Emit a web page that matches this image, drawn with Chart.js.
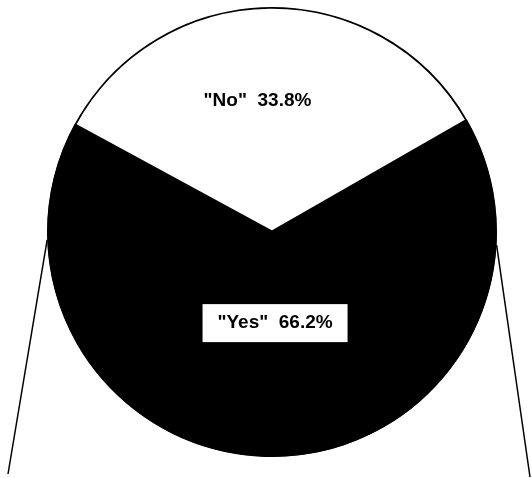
<!DOCTYPE html>
<html>
<head>
<meta charset="utf-8">
<script src="https://cdn.jsdelivr.net/npm/chart.js@4"></script>
<style>
  html, body { margin: 0; padding: 0; background: #fff; }
  #wrap { width: 532px; height: 478px; }
</style>
</head>
<body>
<div id="wrap"><canvas id="c" width="532" height="478"></canvas></div>
<script>
// Survey answers and their shares (percent)
const categories = ['"No"', '"Yes"'];
const shares = [33.8, 66.2];
const sliceColors = ['#ffffff', '#000000'];

// Text labels for each slice, plus the supporting lines under the disc
const pieDecor = {
  id: 'pieDecor',
  afterDatasetsDraw(chart) {
    const ctx = chart.ctx;
    const arcs = chart.getDatasetMeta(0).data;
    const cx = arcs[0].x, cy = arcs[0].y, r = arcs[0].outerRadius;

    // stand lines from the disc's sides down to the floor
    ctx.save();
    ctx.strokeStyle = '#000';
    ctx.lineWidth = 1.5;
    const la = Math.PI - 0.035, ra = 0.058;
    ctx.beginPath();
    ctx.moveTo(cx + r * Math.cos(la), cy + r * Math.sin(la));
    ctx.lineTo(8, 474);
    ctx.moveTo(cx + r * Math.cos(ra), cy + r * Math.sin(ra));
    ctx.lineTo(530, 477);
    ctx.stroke();
    ctx.restore();

    ctx.save();
    ctx.font = 'bold 19px "Liberation Sans", Arial, sans-serif';
    ctx.textAlign = 'center';
    ctx.textBaseline = 'middle';
    arcs.forEach((arc, i) => {
      const mid = (arc.startAngle + arc.endAngle) / 2;
      const frac = i === 0 ? 0.585 : 0.405;
      const x = cx + Math.cos(mid) * r * frac + (i === 0 ? -13 : 2);
      const y = cy + Math.sin(mid) * r * frac;
      const text = categories[i] + '  ' + shares[i].toFixed(1) + '%';
      if (i === 1) {
        const w = 145, h = 38;
        ctx.fillStyle = '#fff';
        ctx.fillRect(x - w / 2, y - h / 2, w, h);
      }
      ctx.fillStyle = '#000';
      ctx.fillText(text, x, y);
    });
    ctx.restore();
  }
};

new Chart(document.getElementById('c'), {
  type: 'pie',
  data: {
    labels: categories,
    datasets: [{
      data: shares,
      backgroundColor: sliceColors,
      borderColor: '#000',
      borderWidth: 1.5,
      borderAlign: 'inner'
    }]
  },
  options: {
    responsive: false,
    animation: false,
    rotation: -61.5,
    layout: { padding: { left: 47, right: 35, top: 7, bottom: 21 } },
    plugins: {
      legend: { display: false },
      tooltip: { enabled: false }
    }
  },
  plugins: [pieDecor]
});
</script>
</body>
</html>
